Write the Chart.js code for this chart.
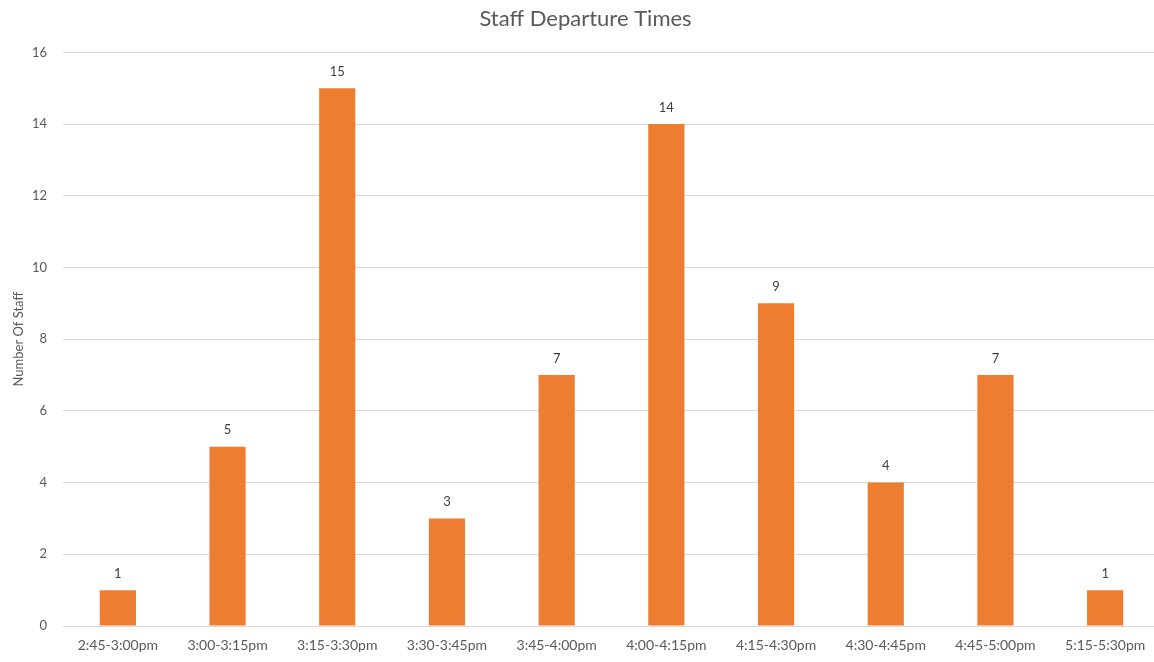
<!DOCTYPE html>
<html lang="en">
<head>
    <meta charset="UTF-8">
    <title>Staff Departure Times</title>
    <script src="https://cdn.jsdelivr.net/npm/chart.js@4.4.0/dist/chart.umd.min.js"></script>
    <style>
        html, body {
            margin: 0;
            padding: 0;
            background: #ffffff;
            overflow: hidden;
        }
        .chart-box {
            width: 1160px;
            height: 662px;
        }
    </style>
</head>
<body>
    <div class="chart-box">
        <canvas id="departureChart"></canvas>
    </div>

    <script>
        var timeSlots = ['2:45-3:00pm', '3:00-3:15pm', '3:15-3:30pm', '3:30-3:45pm', '3:45-4:00pm',
                         '4:00-4:15pm', '4:15-4:30pm', '4:30-4:45pm', '4:45-5:00pm', '5:15-5:30pm'];
        var staffCounts = [1, 5, 15, 3, 7, 14, 9, 4, 7, 1];
        var yTicks = [0, 2, 4, 6, 8, 10, 12, 14, 16];

        var fontName = "Lato, 'Open Sans', sans-serif";

        // numbers above each bar
        var barLabels = {
            id: 'barLabels',
            afterDatasetsDraw: function(chart) {
                var ctx = chart.ctx;
                var meta = chart.getDatasetMeta(0);
                ctx.save();
                ctx.font = '13px ' + fontName;
                ctx.fillStyle = '#404040';
                ctx.textAlign = 'center';
                ctx.textBaseline = 'bottom';
                meta.data.forEach(function(bar, i) {
                    ctx.fillText(staffCounts[i], bar.x, bar.y - 10);
                });
                ctx.restore();
            }
        };

        var ctx = document.getElementById('departureChart').getContext('2d');
        new Chart(ctx, {
            type: 'bar',
            data: {
                labels: timeSlots,
                datasets: [{
                    label: 'Number Of Staff',
                    data: staffCounts,
                    backgroundColor: '#ed7d31',
                    barPercentage: 0.33,
                    categoryPercentage: 1.0
                }]
            },
            plugins: [barLabels],
            options: {
                responsive: true,
                maintainAspectRatio: false,
                animation: false,
                layout: {
                    padding: { left: 11, right: 0, top: 6, bottom: 8 }
                },
                plugins: {
                    legend: { display: false },
                    tooltip: { enabled: false },
                    title: {
                        display: true,
                        text: 'Staff Departure Times',
                        color: '#595959',
                        font: { family: fontName, size: 22, weight: 'normal' },
                        padding: { top: 0, bottom: 20 }
                    }
                },
                scales: {
                    x: {
                        grid: { display: false },
                        border: { color: '#d9d9d9' },
                        ticks: {
                            color: '#595959',
                            font: { family: fontName, size: 14 },
                            maxRotation: 0,
                            padding: 3
                        },
                        afterFit: function(scale) { scale.height = 28; }
                    },
                    y: {
                        min: 0,
                        max: 16,
                        afterBuildTicks: function(scale) {
                            scale.ticks = yTicks.map(function(v) { return { value: v }; });
                        },
                        grid: { color: '#d9d9d9', drawTicks: false },
                        border: { display: false },
                        ticks: {
                            color: '#595959',
                            font: { family: fontName, size: 13 },
                            padding: 16
                        },
                        title: {
                            display: true,
                            text: 'Number Of Staff',
                            color: '#595959',
                            font: { family: fontName, size: 13 },
                            padding: { top: 0, bottom: 6 }
                        },
                        afterFit: function(scale) { scale.width = 52; }
                    }
                }
            }
        });
    </script>
</body>
</html>
